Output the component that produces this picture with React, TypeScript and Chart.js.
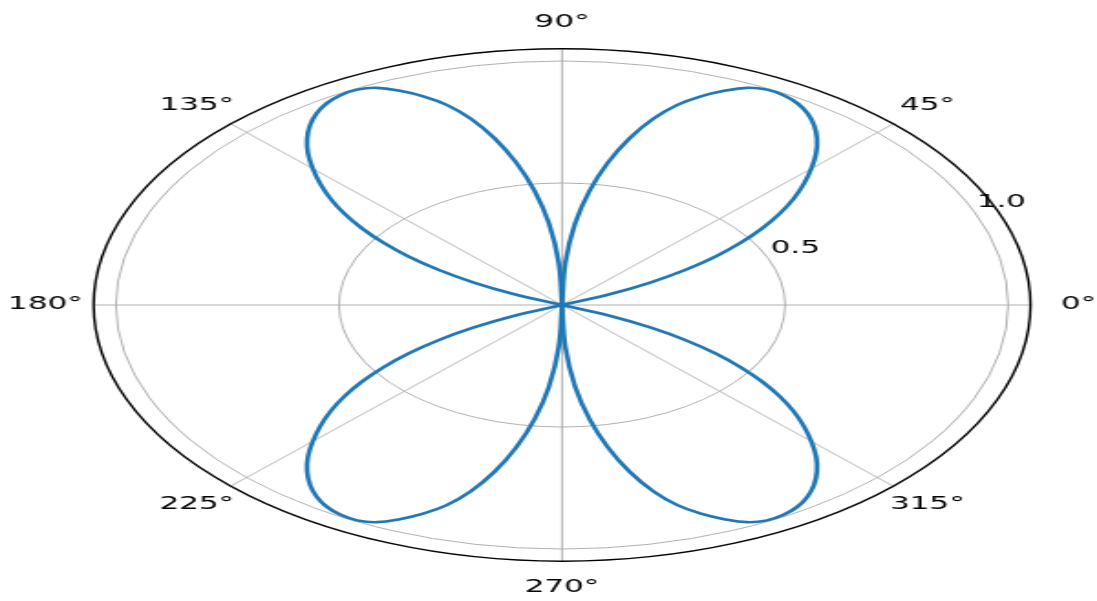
import { useEffect, useRef } from "react";
import { Chart, registerables } from "chart.js";

Chart.register(...registerables);

// One petal of the curve (first quadrant): polar angle in degrees and radius.
const PETAL_THETA = [19.5, 22.5, 25, 27.5, 30, 32.5, 35, 37.5, 40, 42.5, 45, 47.5, 50, 52.5, 55, 57.5, 60, 62.5, 65, 67.5, 70, 72.5, 75, 77.5, 80, 82.5, 85, 87.5, 90];
const PETAL_R = [0, 0.12, 0.22, 0.3125, 0.3975, 0.475, 0.5475, 0.615, 0.6775, 0.735, 0.79, 0.843, 0.889, 0.928, 0.959, 0.981, 0.993, 0.995, 0.982, 0.95, 0.91, 0.86, 0.79, 0.7, 0.593, 0.472, 0.335, 0.175, 0];

// The four petals are mirror images of the first one.
const PETAL_ANGLE_MAPS: ((t: number) => number)[] = [
  (t) => t,
  (t) => 180 - t,
  (t) => 180 + t,
  (t) => 360 - t,
];

const THETA_TICKS = [0, 45, 90, 135, 180, 225, 270, 315];
const THETA_LABELS = ["0°", "45°", "90°", "135°", "180°", "225°", "270°", "315°"];
const R_TICKS = [0.5, 1.0];
const R_LABELS = ["0.5", "1.0"];
const R_MAX = 1.05;
const R_LABEL_ANGLE = 22.5;
const THETA_LABEL_RADIUS = 1.158;

const LINE_COLOR = "#1f77b4";
const GRID_COLOR = "#b0b0b0";
const FONT = '17px "DejaVu Sans", sans-serif';

// Drawing surface is a square plot, stretched horizontally on the page.
const CANVAS_W = 600;
const CANVAS_H = 601;
const PX_PER_UNIT = 244;
const CENTER_X = 307.4;
const CENTER_Y = 305;

const rad = (d: number) => (d * Math.PI) / 180;

const polarFrame = {
  id: "polarFrame",
  beforeDatasetsDraw(chart: any) {
    const { ctx } = chart;
    const xs = chart.scales.x;
    const ys = chart.scales.y;
    const cx = xs.getPixelForValue(0);
    const cy = ys.getPixelForValue(0);
    ctx.save();
    ctx.strokeStyle = GRID_COLOR;
    ctx.lineWidth = 1;
    for (const v of R_TICKS) {
      ctx.beginPath();
      ctx.ellipse(cx, cy, xs.getPixelForValue(v) - cx, cy - ys.getPixelForValue(v), 0, 0, Math.PI * 2);
      ctx.stroke();
    }
    for (const t of THETA_TICKS) {
      const a = rad(t);
      ctx.beginPath();
      ctx.moveTo(cx, cy);
      ctx.lineTo(xs.getPixelForValue(R_MAX * Math.cos(a)), ys.getPixelForValue(R_MAX * Math.sin(a)));
      ctx.stroke();
    }
    ctx.restore();
  },
  afterDatasetsDraw(chart: any) {
    const { ctx } = chart;
    const xs = chart.scales.x;
    const ys = chart.scales.y;
    const cx = xs.getPixelForValue(0);
    const cy = ys.getPixelForValue(0);
    ctx.save();
    // outer boundary
    ctx.strokeStyle = "#000000";
    ctx.lineWidth = 1.4;
    ctx.beginPath();
    ctx.ellipse(cx, cy, xs.getPixelForValue(R_MAX) - cx, cy - ys.getPixelForValue(R_MAX), 0, 0, Math.PI * 2);
    ctx.stroke();

    ctx.fillStyle = "#000000";
    ctx.font = FONT;
    // angle labels
    ctx.textAlign = "center";
    ctx.textBaseline = "middle";
    THETA_TICKS.forEach((t, i) => {
      const a = rad(t);
      const px = xs.getPixelForValue(THETA_LABEL_RADIUS * Math.cos(a));
      const py = ys.getPixelForValue(THETA_LABEL_RADIUS * Math.sin(a));
      ctx.fillText(THETA_LABELS[i], px, py);
    });
    // radial labels
    ctx.textAlign = "left";
    ctx.textBaseline = "alphabetic";
    const ra = rad(R_LABEL_ANGLE);
    R_TICKS.forEach((v, i) => {
      const px = xs.getPixelForValue(v * Math.cos(ra));
      const py = ys.getPixelForValue(v * Math.sin(ra));
      ctx.fillText(R_LABELS[i], px + 1.3, py - 5);
    });
    ctx.restore();
  },
};

export default function App() {
  const canvasRef = useRef<HTMLCanvasElement | null>(null);

  useEffect(() => {
    const canvas = canvasRef.current;
    if (!canvas) return;

    const datasets = PETAL_ANGLE_MAPS.map((mapAngle) => ({
      data: PETAL_THETA.map((t, i) => {
        const a = rad(mapAngle(t));
        return { x: PETAL_R[i] * Math.cos(a), y: PETAL_R[i] * Math.sin(a) };
      }),
      showLine: true,
      borderColor: LINE_COLOR,
      backgroundColor: LINE_COLOR,
      borderWidth: 2.6,
      pointRadius: 0,
      pointHoverRadius: 0,
      tension: 0.4,
      fill: false,
    }));

    const chart = new Chart(canvas, {
      type: "scatter",
      data: { datasets },
      options: {
        animation: false,
        responsive: false,
        devicePixelRatio: 1,
        layout: { padding: 0 },
        plugins: { legend: { display: false }, tooltip: { enabled: false } },
        scales: {
          x: {
            type: "linear",
            display: false,
            min: -CENTER_X / PX_PER_UNIT,
            max: (CANVAS_W - CENTER_X) / PX_PER_UNIT,
          },
          y: {
            type: "linear",
            display: false,
            min: -(CANVAS_H - CENTER_Y) / PX_PER_UNIT,
            max: CENTER_Y / PX_PER_UNIT,
          },
        },
      },
      plugins: [polarFrame],
    });

    return () => chart.destroy();
  }, []);

  return (
    <div style={{ position: "fixed", left: 0, top: 0, width: 1097, height: 601, background: "#ffffff" }}>
      <canvas
        ref={canvasRef}
        width={CANVAS_W}
        height={CANVAS_H}
        style={{ width: "1097px", height: "601px", display: "block" }}
      />
    </div>
  );
}
